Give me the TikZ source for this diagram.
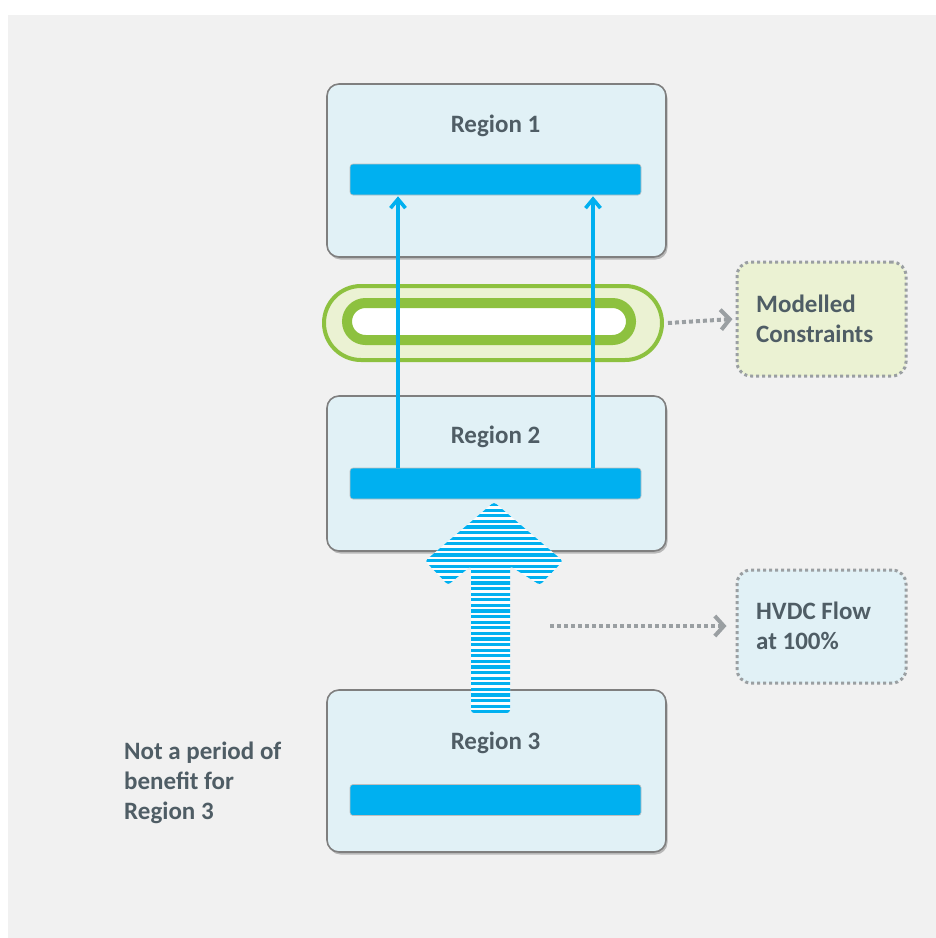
\documentclass[tikz,border=0pt]{standalone}
\usepackage{fontspec}
\setmainfont{Carlito}
\usetikzlibrary{arrows.meta,shadows,calc}
\definecolor{bgc}{HTML}{F1F1F1}
\definecolor{regfill}{HTML}{E1F1F6}
\definecolor{regline}{HTML}{7F7F7F}
\definecolor{barblue}{HTML}{00B0F0}
\definecolor{txt}{HTML}{4F5D65}
\definecolor{grn}{HTML}{8DC13F}
\definecolor{grnlight}{HTML}{EBF2D3}
\definecolor{dotgray}{HTML}{9A9FA2}
\begin{document}
\begin{tikzpicture}[x=1pt,y=-1pt,
  region/.style={draw=regline, line width=1.6pt, fill=regfill, rounded corners=12pt,
    minimum width=339pt, inner sep=0pt,
    drop shadow={shadow xshift=1.5pt, shadow yshift=-2.5pt, opacity=0.35, fill=black!70}},
  bar/.style={draw=black!25, line width=0.6pt, fill=barblue, rounded corners=3pt,
    minimum width=291pt, minimum height=31pt, inner sep=0pt},
  lbl/.style={text=txt, font=\fontsize{25}{31}\selectfont\bfseries, inner sep=0pt, align=left},
  note/.style={draw=dotgray, line width=3pt, dash pattern=on 3pt off 3pt,
    rounded corners=14pt, minimum width=169pt, inner sep=0pt},
  flow/.style={draw=barblue, line width=3.6pt, -{Straight Barb[length=9pt,width=15pt,line width=3.6pt]}},
  dotarrow/.style={draw=dotgray, line width=4pt, dash pattern=on 4pt off 3pt,
    -{Straight Barb[length=9pt,width=20pt,line width=4pt]}}
]
\useasboundingbox (0,0) rectangle (936,938);
\fill[bgc] (8,15) rectangle (936,938);

% regions
\node[region, minimum height=173pt] (r1) at (496.5,170.5) {};
\node[region, minimum height=155pt] (r2) at (496.5,473.5) {};
\node[region, minimum height=162pt] (r3) at (496.5,771) {};
\node[lbl] (r1l) at (495.5,126) {Region 1};
\node[lbl] (r2l) at (495.5,437) {Region 2};
\node[lbl] (r3l) at (495.5,743) {Region 3};
\node[bar] (b1) at (495.5,179.5) {};
\node[bar] (b2) at (495.5,483.5) {};
\node[bar] (b3) at (495.5,800) {};

% green constraint capsule
\node[draw=grn, line width=4pt, fill=grnlight, rounded corners=37pt,
  minimum width=338pt, minimum height=74pt, inner sep=0pt] (cap) at (493,323) {};
\node[draw=grn, line width=10pt, fill=white, rounded corners=18.5pt,
  minimum width=284pt, minimum height=37pt, inner sep=0pt] (capin) at (489,321.5) {};

% blue flow arrows
\draw[flow] ([xshift=-97.5pt]b2.north) -- ([xshift=-97.5pt,yshift=-1pt]b1.south);
\draw[flow] ([xshift=97.5pt]b2.north) -- ([xshift=97.5pt,yshift=-1pt]b1.south);

% striped HVDC arrow
\begin{scope}
\path[clip, rounded corners=3pt] (494,502) -- (425,561) -- (448,585) -- (471,566) -- (471,713)
  -- (510,713) -- (510,566) -- (540,585) -- (563,561) -- cycle;
\fill[white!85!regfill] (420,500) rectangle (570,716);
\foreach \k in {0,...,38} {
  \fill[barblue] (420,{503+\k*5.6}) rectangle (570,{503+\k*5.6+3.2});
}
\end{scope}

% notes
\node[note, fill=grnlight, minimum height=114pt] (mc) at (821.5,319) {};
\node[lbl, anchor=west] (mct) at (756,319) {Modelled\\[-1pt]Constraints};
\node[note, fill=regfill, minimum height=113pt] (hv) at (821.5,626.5) {};
\node[lbl, anchor=west] (hvt) at (756,626) {HVDC Flow\\[-1pt]at 100\%};

\coordinate (hvs) at (550,626);
\draw[dotarrow] ([xshift=4pt]cap.east) -- ([xshift=-3pt]mc.west);
\draw[dotarrow] (hvs) -- ([xshift=-9pt]hv.west |- hvs);

% left note
\node[lbl, anchor=west] (nb) at (124,783) {Not a period of\\[-1pt]benefit for\\[-1pt]Region 3};
\end{tikzpicture}
\end{document}
